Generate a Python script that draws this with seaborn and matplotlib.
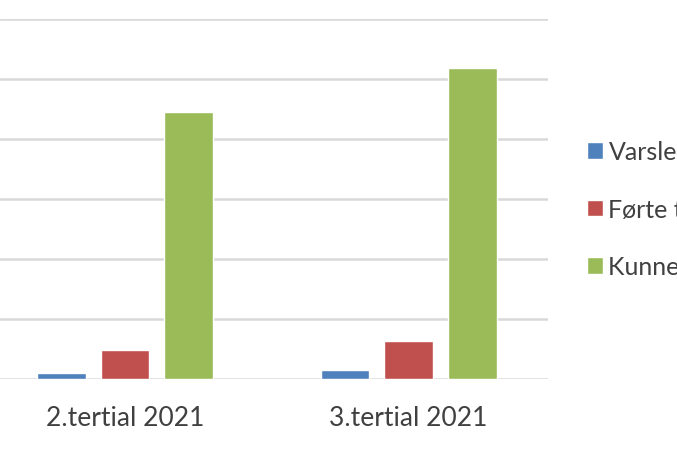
import numpy as np
import pandas as pd
import matplotlib.pyplot as plt
import seaborn as sns

# values (y axis itself is cut off in the source)
periods = ["2.tertial 2021", "3.tertial 2021"]
series = ["Varsler", "Førte til tiltak", "Kunne ikke følges opp"]
varsler = [2, 3]
forte = [9.5, 12.5]
kunne = [89, 103.5]
colors = ["#4F81BD", "#C0504D", "#9BBB59"]

df = pd.DataFrame({
    "periode": periods * 3,
    "serie": [series[0]] * 2 + [series[1]] * 2 + [series[2]] * 2,
    "antall": varsler + forte + kunne,
})

sns.set_style("white")
plt.rcParams['font.family'] = ['Lato', 'DejaVu Sans']

fig = plt.figure(figsize=(6.77, 4.52), dpi=100)
ax = fig.add_axes([0, 0.1593, 0.8095, 0.7965])

sns.barplot(data=df, x="periode", y="antall", hue="serie", palette=colors,
            width=0.672, gap=0.23, saturation=1, ax=ax, legend=True)

ax.set_ylim(0, 120)
ax.set_xlim(-0.441, 1.492)
ax.set_yticks(np.arange(0, 121, 20))
ax.yaxis.grid(True, color="#D9D9D9", linewidth=1.8)
ax.set_axisbelow(True)
for s in ax.spines.values():
    s.set_visible(False)
ax.set_yticklabels([])
ax.tick_params(axis="y", length=0)
ax.tick_params(axis="x", length=0, pad=19, labelsize=19, labelcolor="#404040")
ax.set_xlabel("")
ax.set_ylabel("")

h, l = ax.get_legend_handles_labels()
ax.get_legend().remove()
fig.legend(h, l, loc="center left", bbox_to_anchor=(0.867, 0.535),
           frameon=False, fontsize=18, labelcolor="#404040",
           handlelength=0.64, handleheight=0.64, handletextpad=0.22,
           labelspacing=1.38, borderpad=0, borderaxespad=0)

fig.savefig("out.png", dpi=100)
